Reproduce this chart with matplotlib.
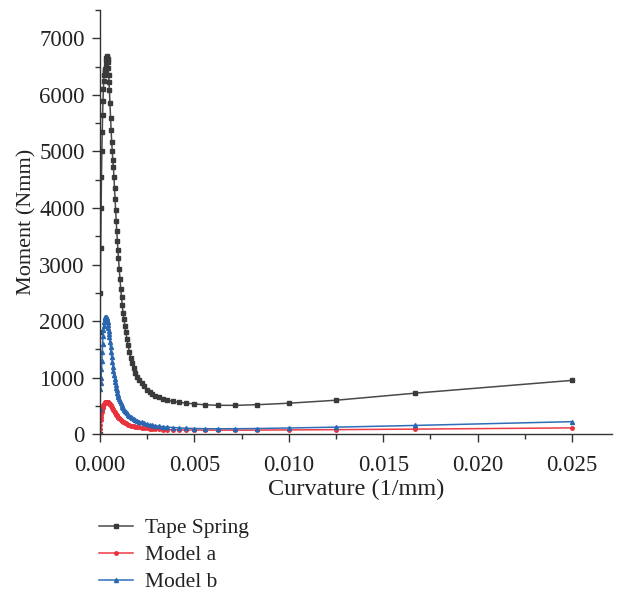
import matplotlib
matplotlib.use('Agg')
import matplotlib.pyplot as plt
from matplotlib.ticker import MultipleLocator

plt.rcParams['font.family'] = ['Liberation Serif', 'DejaVu Serif']
plt.rcParams['font.size'] = 15

# curvature (1/mm), shared by the three series
curvature = [0.0, 0.00001, 0.00002, 0.00004, 0.00006, 0.00008, 0.0001, 0.00012, 0.00014, 0.00016,
             0.00018, 0.0002, 0.00022, 0.00024, 0.00026, 0.00028, 0.0003, 0.00032, 0.00034, 0.00036,
             0.00038, 0.0004, 0.00042, 0.00044, 0.00046, 0.00048, 0.0005, 0.00053, 0.00056, 0.00059,
             0.00062, 0.00065, 0.00068, 0.00071, 0.00074, 0.00077, 0.0008, 0.00083, 0.00086, 0.00089,
             0.00092, 0.00095, 0.00098, 0.00102, 0.00106, 0.0011, 0.00114, 0.00118, 0.00122, 0.00127,
             0.00132, 0.00137, 0.00143, 0.00149, 0.00156, 0.00163, 0.0017, 0.00179, 0.00188, 0.00198,
             0.00208, 0.0022, 0.00233, 0.00247, 0.00263, 0.00278, 0.00294, 0.00313, 0.00333, 0.00357,
             0.00385, 0.00417, 0.00455, 0.005, 0.00556, 0.00625, 0.00714, 0.00833, 0.01, 0.0125,
             0.01667, 0.025]

# moment (Nmm)
tape_spring = [0, 1800, 2500, 3300, 4000, 4550, 5000, 5350, 5650, 5900,
               6100, 6250, 6350, 6400, 6420, 6450, 6520, 6600, 6660, 6680,
               6670, 6640, 6580, 6480, 6350, 6220, 6080, 5850, 5600, 5380,
               5170, 5000, 4850, 4720, 4550, 4350, 4160, 3960, 3770, 3590,
               3420, 3260, 3110, 2920, 2740, 2570, 2420, 2280, 2150, 2030,
               1920, 1800, 1680, 1570, 1460, 1350, 1260, 1165, 1090, 1020,
               960, 900, 845, 790, 745, 710, 680, 650, 625, 600,
               582, 565, 550, 535, 520, 512, 510, 522, 548, 601,
               725, 952]

model_a = [0, 100, 170, 250, 310, 360, 400, 435, 465, 490,
           510, 527, 540, 551, 560, 566, 571, 574, 576, 577,
           576, 574, 570, 565, 558, 550, 541, 526, 510, 493,
           476, 458, 440, 423, 406, 390, 374, 359, 345, 331,
           318, 306, 294, 280, 266, 254, 242, 231, 221, 210,
           199, 190, 180, 171, 162, 154, 147, 139, 132, 125,
           119, 113, 107, 102, 97, 93, 89, 86, 83, 80,
           78, 76, 75, 74, 73, 72, 72, 73, 76, 81,
           90, 112]

model_b = [0, 450, 800, 900, 1000, 1150, 1300, 1450, 1600, 1730,
           1840, 1920, 1980, 2030, 2055, 2070, 2078, 2078, 2070, 2050,
           2020, 1980, 1935, 1885, 1830, 1775, 1720, 1630, 1540, 1450,
           1360, 1275, 1195, 1120, 1050, 985, 925, 870, 820, 775,
           735, 697, 662, 620, 582, 548, 517, 490, 465, 437,
           412, 390, 367, 346, 325, 306, 289, 270, 253, 237,
           223, 208, 194, 181, 169, 159, 150, 141, 133, 125,
           118, 112, 106, 101, 98, 96, 97, 101, 110, 125,
           155, 222]

fig = plt.figure(figsize=(6.21, 5.94), dpi=100)
ax = fig.add_axes([0.161, 0.269, 0.824, 0.714])

ax.plot(curvature, tape_spring, color='#4a4a4a', lw=1.1, marker='s', ms=2.3,
        mfc='#3a3a3a', mec='#3a3a3a', label='Tape Spring')
ax.plot(curvature, model_a, color='#ee3a45', lw=1.1, marker='o', ms=2.5,
        mfc='#e8323c', mec='#e8323c', label='Model a')
ax.plot(curvature, model_b, color='#2f6db8', lw=1.1, marker='^', ms=2.9,
        mfc='#2a67b0', mec='#2a67b0', label='Model b')

ax.set_xlim(0, 0.0271)
ax.set_ylim(0, 7500)
ax.xaxis.set_major_locator(MultipleLocator(0.005))
ax.xaxis.set_minor_locator(MultipleLocator(0.0025))
ax.yaxis.set_major_locator(MultipleLocator(1000))
ax.yaxis.set_minor_locator(MultipleLocator(500))
ax.xaxis.set_major_formatter(plt.FuncFormatter(lambda v, p: f'{v:.3f}'))

ax.spines['top'].set_visible(False)
ax.spines['right'].set_visible(False)
for s in ['left', 'bottom']:
    ax.spines[s].set_color('#333333')
    ax.spines[s].set_linewidth(1.0)
ax.tick_params(which='major', direction='out', length=6, width=1, color='#333333',
               labelsize=16.5, labelcolor='#222222')
ax.tick_params(axis='x', which='major', pad=9)
ax.tick_params(axis='y', which='major', pad=5)
ax.tick_params(which='minor', direction='out', length=3.5, width=1, color='#333333')

ax.set_xlabel('Curvature (1/mm)', fontsize=17.5, color='#222222', labelpad=2)
ax.set_ylabel('Moment (Nmm)', fontsize=16, color='#222222', labelpad=2)

handles, labels = ax.get_legend_handles_labels()
fig.legend(handles, labels, loc='upper left', bbox_to_anchor=(0.128, 0.16),
           frameon=False, numpoints=1, handlelength=1.6, handletextpad=0.55,
           labelspacing=0.32, fontsize=15.5, labelcolor='#222222')

fig.savefig('out.png', dpi=100)
